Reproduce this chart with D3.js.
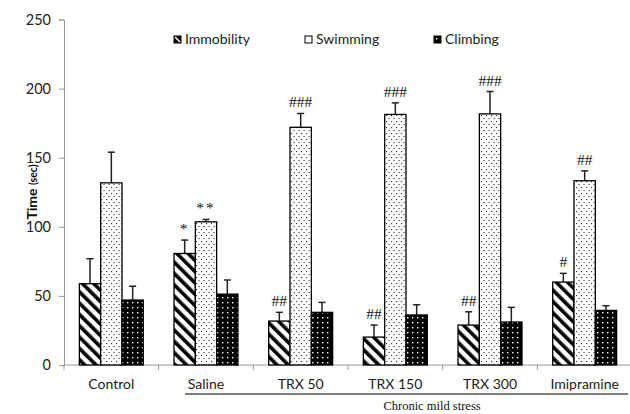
<!DOCTYPE html>
<html>
<head>
<meta charset="utf-8">
<script src="https://cdn.jsdelivr.net/npm/d3@7"></script>
<style>
  body { margin: 0; background: #fff; }
  svg { display: block; }
</style>
</head>
<body>
<script>
(function() {

    // data
    var categories = ['Control', 'Saline', 'TRX 50', 'TRX 150', 'TRX 300', 'Imipramine'];
    var series = ['Immobility', 'Swimming', 'Climbing'];
    var immobility = [58.8, 80.7, 31.8, 20.2, 28.9, 60];
    var swimming = [131.8, 103.6, 172, 181.3, 181.7, 133.3];
    var climbing = [47, 51.3, 38.1, 36.2, 31.1, 39.5];
    var immobilityErr = [18.1, 9.7, 6.3, 8.7, 9.6, 6.3];
    var swimmingErr = [22.2, 1.7, 10, 8.4, 16.2, 7.2];
    var climbingErr = [10, 10.2, 7.2, 7.4, 10.6, 3.4];
    var immobilityMarks = ['', '*', '##', '##', '##', '#'];
    var swimmingMarks = ['', '**', '###', '###', '###', '##'];
    var yTicks = [0, 50, 100, 150, 200, 250];

    var values = [immobility, swimming, climbing];
    var errs = [immobilityErr, swimmingErr, climbingErr];
    var marks = [immobilityMarks, swimmingMarks, ['', '', '', '', '', '']];
    var fills = ['url(#stripes)', 'url(#dots)', 'url(#blackdots)'];

    var svg = d3.select('body').append('svg')
        .attr('width', 630)
        .attr('height', 414);

    // patterns
    var defs = svg.append('defs');
    var p1 = defs.append('pattern').attr('id', 'stripes')
        .attr('patternUnits', 'userSpaceOnUse')
        .attr('width', 8).attr('height', 8)
        .attr('patternTransform', 'rotate(-45)');
    p1.append('rect').attr('width', 8).attr('height', 8).attr('fill', '#fff');
    p1.append('rect').attr('width', 3.6).attr('height', 8).attr('fill', '#000');

    var p2 = defs.append('pattern').attr('id', 'dots')
        .attr('patternUnits', 'userSpaceOnUse')
        .attr('width', 5).attr('height', 6);
    p2.append('rect').attr('width', 5).attr('height', 6).attr('fill', '#fff');
    p2.append('rect').attr('x', 1).attr('y', 1).attr('width', 1.1).attr('height', 1.1).attr('fill', '#333');
    p2.append('rect').attr('x', 3.5).attr('y', 4).attr('width', 1.1).attr('height', 1.1).attr('fill', '#333');

    var p3 = defs.append('pattern').attr('id', 'blackdots')
        .attr('patternUnits', 'userSpaceOnUse')
        .attr('width', 5).attr('height', 5);
    p3.append('rect').attr('width', 5).attr('height', 5).attr('fill', '#000');
    p3.append('rect').attr('x', 2).attr('y', 2).attr('width', 1.4).attr('height', 1.4).attr('fill', '#fff');

    var y = d3.scaleLinear().domain([0, 250]).range([365, 19.5]);
    var x0 = d3.scaleBand().domain(categories).range([64, 632]);
    var x1 = d3.scaleBand().domain(series).range([0, x0.bandwidth()]).paddingOuter(0.72);

    // y axis
    var yAxis = svg.append('g').attr('transform', 'translate(64,0)')
        .call(d3.axisLeft(y).tickValues(yTicks).tickSize(5).tickPadding(8));
    yAxis.select('.domain').attr('stroke', '#999');
    yAxis.selectAll('.tick line').attr('stroke', '#999');
    yAxis.selectAll('.tick text')
        .attr('font-family', 'Lato, sans-serif')
        .attr('font-size', 14.5)
        .attr('fill', '#222');

    // x axis line + boundary ticks
    svg.append('line').attr('x1', 64).attr('x2', 630).attr('y1', 365).attr('y2', 365)
        .attr('stroke', '#999').attr('stroke-width', 1);
    svg.selectAll('.xtick').data(categories).enter().append('line')
        .attr('x1', function(d) { return x0(d); })
        .attr('x2', function(d) { return x0(d); })
        .attr('y1', 365).attr('y2', 370)
        .attr('stroke', '#999');

    svg.selectAll('.xlabel').data(categories).enter().append('text')
        .attr('x', function(d) { return x0(d) + x0.bandwidth() / 2; })
        .attr('y', 389)
        .attr('text-anchor', 'middle')
        .attr('font-family', 'Lato, sans-serif')
        .attr('font-size', 14)
        .attr('fill', '#222')
        .text(function(d) { return d; });

    // bars
    series.forEach(function(s, si) {
        var g = svg.append('g');
        var bw = x1.bandwidth();
        g.selectAll('line.err').data(categories).enter().append('line')
            .attr('x1', function(d) { return x0(d) + x1(s) + bw / 2; })
            .attr('x2', function(d) { return x0(d) + x1(s) + bw / 2; })
            .attr('y1', function(d, i) { return y(values[si][i]); })
            .attr('y2', function(d, i) { return y(values[si][i] + errs[si][i]); })
            .attr('stroke', '#222').attr('stroke-width', 1.5);
        g.selectAll('line.cap').data(categories).enter().append('line')
            .attr('x1', function(d) { return x0(d) + x1(s) + bw / 2 - 3.5; })
            .attr('x2', function(d) { return x0(d) + x1(s) + bw / 2 + 3.5; })
            .attr('y1', function(d, i) { return y(values[si][i] + errs[si][i]); })
            .attr('y2', function(d, i) { return y(values[si][i] + errs[si][i]); })
            .attr('stroke', '#222').attr('stroke-width', 1.5);
        g.selectAll('rect').data(categories).enter().append('rect')
            .attr('x', function(d) { return x0(d) + x1(s); })
            .attr('y', function(d, i) { return y(values[si][i]); })
            .attr('width', bw)
            .attr('height', function(d, i) { return 365 - y(values[si][i]); })
            .attr('fill', fills[si])
            .attr('stroke', '#000').attr('stroke-width', 1.3);
        g.selectAll('text').data(categories).enter().append('text')
            .attr('x', function(d) { return x0(d) + x1(s) + bw / 2; })
            .attr('y', function(d, i) { return y(values[si][i] + errs[si][i]) - 6; })
            .attr('text-anchor', 'middle')
            .attr('font-family', '"Liberation Serif", serif')
            .attr('font-size', 15.5)
            .attr('letter-spacing', function(d, i) { return marks[si][i].charAt(0) == '*' ? 2 : 0; })
            .attr('fill', '#111')
            .text(function(d, i) { return marks[si][i]; });
    });

    // legend
    var legX = [174, 305, 434];
    var leg = svg.selectAll('.leg').data(series).enter().append('g')
        .attr('transform', function(d, i) { return 'translate(' + legX[i] + ',36)'; });
    leg.append('rect').attr('width', 7).attr('height', 7)
        .attr('fill', function(d, i) { return i == 0 ? '#000' : i == 1 ? '#fff' : fills[i]; })
        .attr('stroke', '#000').attr('stroke-width', 1);
    leg.filter(function(d, i) { return i == 0; }).append('line')
        .attr('x1', 1).attr('y1', 1).attr('x2', 6).attr('y2', 6)
        .attr('stroke', '#fff').attr('stroke-width', 1.5);
    leg.append('text').attr('x', 11).attr('y', 8)
        .attr('font-family', 'Lato, sans-serif')
        .attr('font-size', 14)
        .attr('fill', '#222')
        .text(function(d) { return d; });

    // y title
    var yt = svg.append('text')
        .attr('transform', 'translate(37,192) rotate(-90)')
        .attr('text-anchor', 'middle')
        .attr('font-family', 'Lato, sans-serif')
        .attr('font-weight', 'bold')
        .attr('font-size', 14)
        .attr('fill', '#111');
    yt.append('tspan').text('Time ');
    yt.append('tspan').attr('font-size', 10.5).text('(sec)');

    // chronic mild stress bracket
    svg.append('line').attr('x1', 185).attr('x2', 628).attr('y1', 394).attr('y2', 394)
        .attr('stroke', '#000').attr('stroke-width', 1);
    svg.append('text').attr('x', 432).attr('y', 410)
        .attr('text-anchor', 'middle')
        .attr('font-family', '"Liberation Serif", serif')
        .attr('font-size', 12.5)
        .attr('fill', '#111')
        .text('Chronic mild stress');

})();
</script>
</body>
</html>
